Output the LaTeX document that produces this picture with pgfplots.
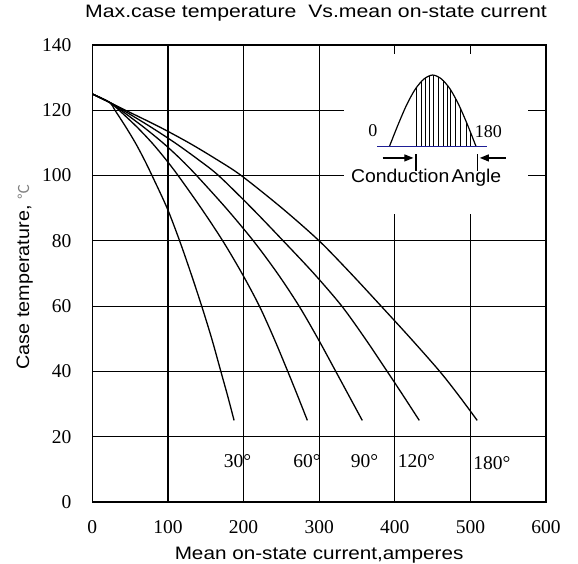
\documentclass[border=0pt]{standalone}
\usepackage{pgfplots}
\pgfplotsset{compat=1.18}
\usetikzlibrary{arrows.meta}
\usepackage{fontspec}
\setmainfont{Liberation Serif}
\newfontfamily\titlefont{Liberation Sans}[FakeStretch=1.18]
\newfontfamily\xlabfont{Liberation Sans}[FakeStretch=1.15]
\newfontfamily\ylabfont{Liberation Sans}[FakeStretch=1.1]
\newfontfamily\insetfont{Liberation Sans}[FakeStretch=1.05]
\newfontfamily\cjk{Noto Sans CJK SC}
\definecolor{baseblue}{RGB}{30,30,150}

\begin{document}
\begin{tikzpicture}
\begin{axis}[
    scale only axis,
    width=453.7pt, height=457pt,
    at={(0pt,0pt)}, anchor=south west,
    xmin=0, xmax=600,
    ymin=0, ymax=140,
    xtick={0,100,...,600},
    ytick={0,20,...,140},
    grid=major,
    major grid style={black, line width=1.2pt},
    major tick length=0pt,
    axis line style={line width=1.2pt},
    /pgf/number format/assume math mode=true,
    tick label style={font=\fontsize{19.5}{19.5}\selectfont},
    xticklabel style={anchor=north, inner sep=0pt, yshift=-18.7pt},
    yticklabel style={anchor=east, inner sep=0pt, xshift=-20.6pt},
    title={Max.case temperature\ \ Vs.mean on-state current},
    title style={at={(axis description cs:0.493,1.0475)}, anchor=base,
        font=\titlefont\fontsize{18}{18}\selectfont},
    xlabel={Mean on-state current,amperes},
    xlabel style={at={(axis description cs:0.5,-0.126)}, anchor=base,
        font=\xlabfont\fontsize{18}{18}\selectfont},
    ylabel={Case temperature, {\cjk\color{gray}\fontsize{15}{15}\selectfont ℃}},
    ylabel style={at={(axis description cs:-0.139,0.492)}, anchor=base,
        font=\ylabfont\fontsize{18}{18}\selectfont},
]

% inset area is left blank over the grid
\fill[white] (axis cs:332.5,88.3) rectangle (axis cs:576,137.2);

% 30 deg
\addplot[black, line width=1.3pt, smooth] coordinates {
    (0,125) (23,122.4) (30,120) (44,115) (57,110) (68.5,105) (79,100) (99,90)
    (115.5,80) (130.5,70) (144.7,60) (158,50) (170,40) (179,32.5) (187.5,25)
};
% 60 deg
\addplot[black, line width=1.3pt, smooth] coordinates {
    (0,125) (23,122.4) (35.5,120) (58.5,115) (79,110) (97,105) (113.5,100) (144,90)
    (172.5,80) (198,70) (221,60) (240.5,50) (258.5,40) (271.6,32.5) (284.4,25)
};
% 90 deg
\addplot[black, line width=1.3pt, smooth] coordinates {
    (0,125) (23,122.4) (38,120) (67,115) (93.5,110) (117,105) (138,100) (177,90)
    (213,80) (245,70) (273.5,60) (298.5,50) (322,40) (339.5,32.5) (357,25)
};
% 120 deg
\addplot[black, line width=1.3pt, smooth] coordinates {
    (0,125) (23,122.4) (41,120) (76.5,115) (109.5,110) (139.5,105) (167,100) (211,90)
    (252.5,80) (293,70) (330,60) (361,50) (390,40) (411.4,32.5) (432.4,25)
};
% 180 deg
\addplot[black, line width=1.3pt, smooth] coordinates {
    (0,125) (23,122.4) (44,120) (88,115) (128,110) (164,105) (197,100) (251,90)
    (300,80) (342,70) (382,60) (421.5,50) (459.5,40) (485,32.5) (509,25)
};

% inset: half sine wave
\addplot[black, line width=1.2pt, smooth] coordinates {
    (392.9,108.9) (404.4,115.6) (415.8,121.7) (427.2,126.5) (438.7,129.6)
    (450.2,130.8) (461.7,129.6) (473.2,126.5) (484.6,121.7) (496.1,115.6) (507.5,108.9)
};
\draw[line width=1pt] (axis cs:428.6,108.9) -- (axis cs:428.6,127.0);
\draw[line width=1pt] (axis cs:434.8,108.9) -- (axis cs:434.8,128.8);
\draw[line width=1pt] (axis cs:440.5,108.9) -- (axis cs:440.5,130.0);
\draw[line width=1pt] (axis cs:446.2,108.9) -- (axis cs:446.2,130.6);
\draw[line width=1pt] (axis cs:451.5,108.9) -- (axis cs:451.5,130.7);
\draw[line width=1pt] (axis cs:457.3,108.9) -- (axis cs:457.3,130.3);
\draw[line width=1pt] (axis cs:463.9,108.9) -- (axis cs:463.9,129.2);
\draw[line width=1pt] (axis cs:469.2,108.9) -- (axis cs:469.2,127.8);
\draw[line width=1pt] (axis cs:473.9,108.9) -- (axis cs:473.9,126.2);
\draw[line width=1pt] (axis cs:480.5,108.9) -- (axis cs:480.5,123.5);
\draw[line width=1pt] (axis cs:486.7,108.9) -- (axis cs:486.7,120.6);
\draw[line width=1pt] (axis cs:494.3,108.9) -- (axis cs:494.3,116.5);
\draw[line width=1pt] (axis cs:500.0,108.9) -- (axis cs:500.0,113.2);
\draw[baseblue, line width=1.3pt] (axis cs:377,108.9) -- (axis cs:522.5,108.9);

% conduction angle arrows
\draw[line width=1.2pt, -{Triangle[length=9pt,width=7pt]}]
    (axis cs:384,105.4) -- (axis cs:424.6,105.4);
\draw[line width=1.2pt] (axis cs:428.2,106.6) -- (axis cs:428.2,101.5);
\draw[line width=1.2pt, -{Triangle[length=9pt,width=7pt]}]
    (axis cs:547,105.4) -- (axis cs:512.5,105.4);
\draw[line width=1.2pt] (axis cs:509.3,106.6) -- (axis cs:509.3,101.5);

\node[font=\fontsize{18}{18}\selectfont] at (axis cs:370.9,113.7) {0};
\node[font=\fontsize{18}{18}\selectfont] at (axis cs:523.8,113.5) {180};
\node[font=\insetfont\fontsize{18.5}{18.5}\selectfont] at (axis cs:441.5,99.2)
    {Conduction\hspace{0.12em}Angle};

% curve labels
\node[anchor=base, font=\fontsize{19.5}{19.5}\selectfont] at (axis cs:192,10.55) {30°};
\node[anchor=base, font=\fontsize{19.5}{19.5}\selectfont] at (axis cs:284,10.55) {60°};
\node[anchor=base, font=\fontsize{19.5}{19.5}\selectfont] at (axis cs:360,10.55) {90°};
\node[anchor=base, font=\fontsize{19.5}{19.5}\selectfont] at (axis cs:428.5,10.55) {120°};
\node[anchor=base, font=\fontsize{19.5}{19.5}\selectfont] at (axis cs:528.5,9.85) {180°};

% heavier left and bottom border
\draw[line width=2.2pt] (rel axis cs:0,1) -- (rel axis cs:0,0) -- (rel axis cs:1,0);
\end{axis}
\pgfresetboundingbox
\path (-92.3pt,-62pt) rectangle (485.7pt,502pt);
\end{tikzpicture}
\end{document}
